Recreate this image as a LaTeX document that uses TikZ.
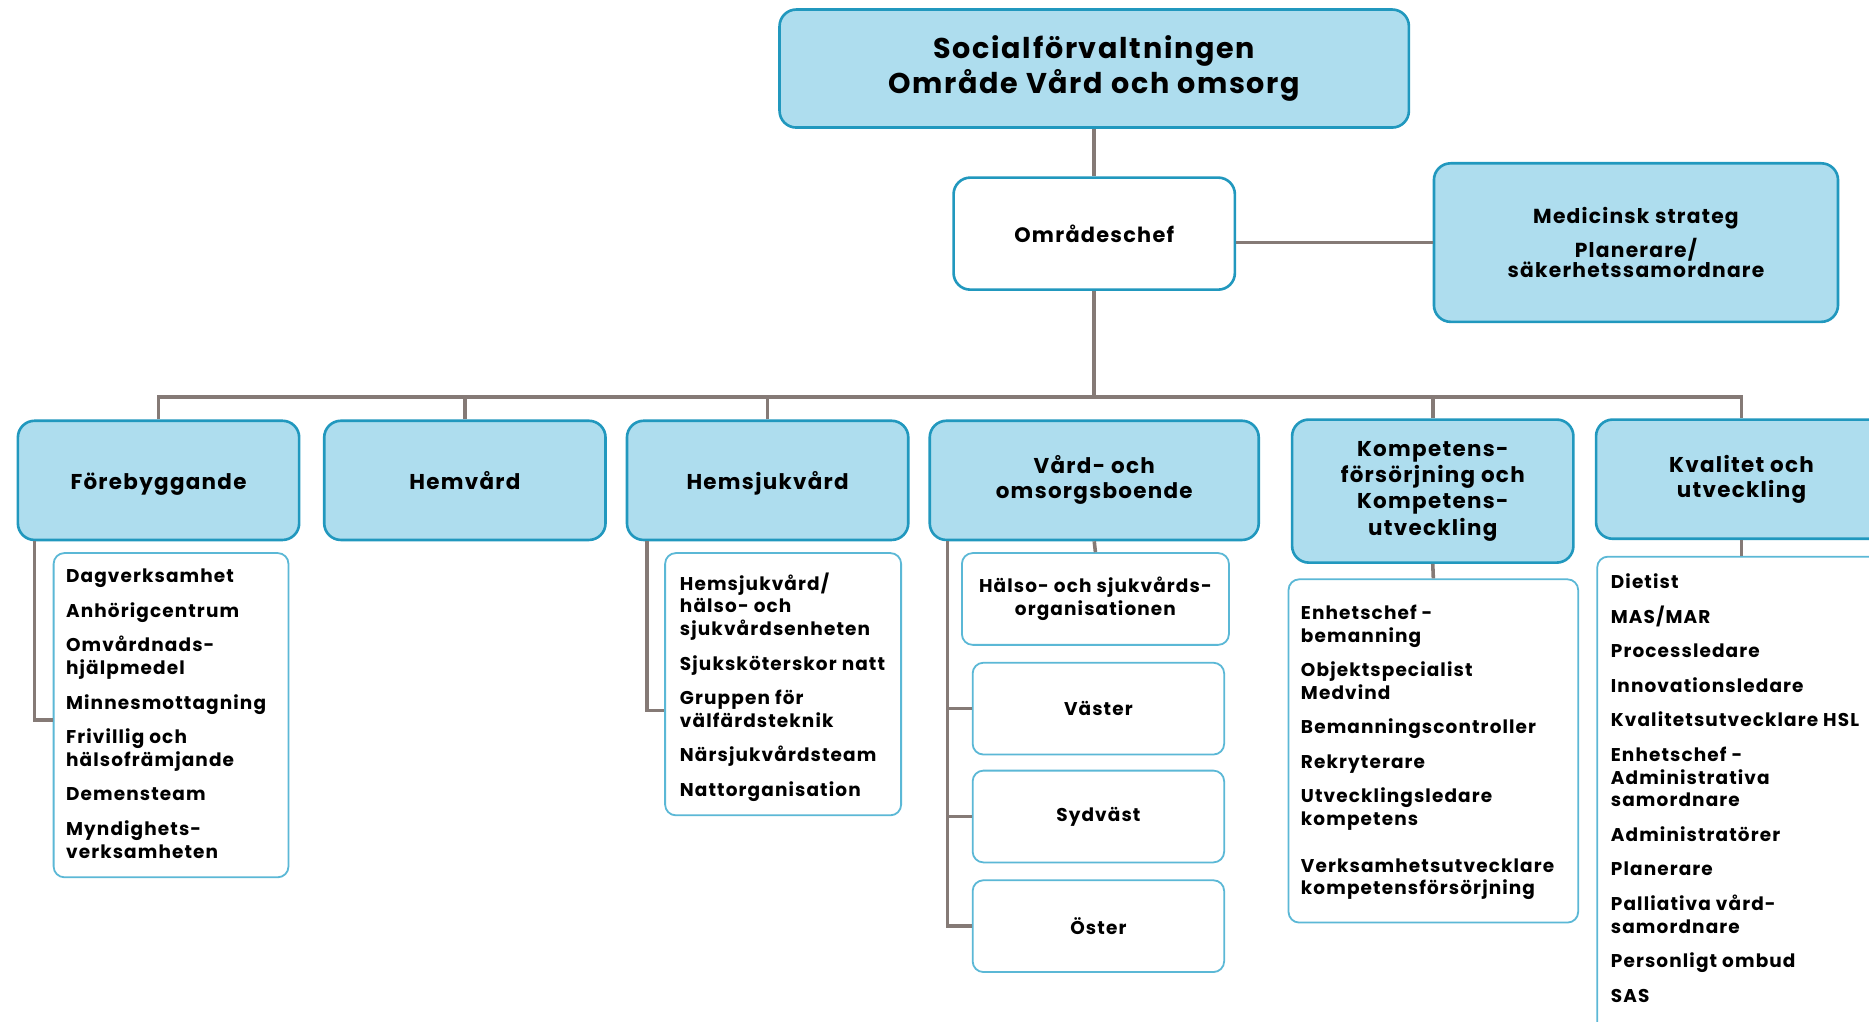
\documentclass[tikz,border=0pt]{standalone}
\usepackage{fontspec}
\setmainfont{Poppins}[LetterSpace=6]
\definecolor{fillc}{HTML}{AEDDEE}
\definecolor{bordc}{HTML}{2198BE}
\definecolor{listc}{HTML}{5BB8D6}
\definecolor{connc}{HTML}{857A76}
\begin{document}
\begin{tikzpicture}[x=1pt,y=-1pt,
  bluebox/.style={draw=bordc, fill=fillc, line width=2.2pt, rounded corners=14pt, align=center, inner sep=0pt, font=\bfseries\fontsize{18}{21}\selectfont},
  whitebox/.style={draw=bordc, fill=white, line width=2.2pt, rounded corners=14pt, align=center, inner sep=0pt, font=\bfseries\fontsize{18}{21}\selectfont},
  oneline/.style={text height=19pt, text depth=3.5pt},
  listbox/.style={draw=listc, fill=white, line width=1.5pt, rounded corners=9pt, align=center, inner sep=0pt, font=\bfseries\fontsize{15.5}{19}\selectfont},
  listtext/.style={align=left, inner sep=0pt, anchor=north west, font=\bfseries\fontsize{15.5}{19}\selectfont},
  conn/.style={draw=connc, line width=3pt}]
\useasboundingbox (0,0) rectangle (1568,857);
\clip (0,0) rectangle (1568,857);
\fill[white] (0,0) rectangle (1568,857);
% top level
\node[bluebox, minimum width=528pt, minimum height=99pt, font=\bfseries\fontsize{24}{29}\selectfont] (top) at (918,57.5) {Socialförvaltningen\\Område Vård och omsorg};
\node[whitebox, minimum width=236pt, minimum height=94pt, font=\bfseries\fontsize{17.5}{21}\selectfont] (chef) at (918,196) {Områdeschef};
\node[bluebox, minimum width=339pt, minimum height=133pt, font=\bfseries\fontsize{17}{17}\selectfont] (med) at (1372.5,203.5) {Medicinsk strateg\\[7pt]Planerare/\\säkerhetssamordnare};
% level 2
\node[bluebox, oneline, minimum width=236pt, minimum height=100pt] (fore) at (133,403) {Förebyggande};
\node[bluebox, oneline, minimum width=236pt, minimum height=100pt] (hemv) at (390,403) {Hemvård};
\node[bluebox, oneline, minimum width=236pt, minimum height=100pt] (hemsj) at (644,403) {Hemsjukvård};
\node[bluebox, minimum width=276pt, minimum height=100pt] (vob) at (918,403) {Vård- och\\omsorgsboende};
\node[bluebox, minimum width=236pt, minimum height=120pt, font=\bfseries\fontsize{18}{22}\selectfont] (komp) at (1202,412) {Kompetens-\\försörjning och\\Kompetens-\\utveckling};
\node[bluebox, minimum width=244pt, minimum height=100pt] (kval) at (1461,402) {Kvalitet och\\utveckling};
% list boxes
\node[listbox, minimum width=197pt, minimum height=272pt] (foreL) at (143.5,600) {};
\node[listbox, minimum width=198pt, minimum height=220pt] (hemsjL) at (657,574) {};
\node[listbox, minimum width=224pt, minimum height=77pt] (halso) at (919,502.5) {Hälso- och sjukvårds-\\organisationen};
\node[listbox, minimum width=211pt, minimum height=77pt] (vast) at (921.5,594.5) {Väster};
\node[listbox, minimum width=211pt, minimum height=77pt] (sydv) at (921.5,685) {Sydväst};
\node[listbox, minimum width=211pt, minimum height=77pt] (oster) at (921.5,777) {Öster};
\node[listbox, minimum width=243pt, minimum height=288pt] (kompL) at (1202.5,630) {};
\node[listbox, minimum width=260pt, minimum height=413pt] (kvalL) at (1470,673.5) {};
% list texts
\node[listtext] (foreT) at ([xshift=11pt,yshift=-14pt]foreL.north west) {Dagverksamhet\\[10pt]Anhörigcentrum\\[10pt]Omvårdnads-\\hjälpmedel\\[10pt]Minnesmottagning\\[10pt]Frivillig och\\hälsofrämjande\\[10pt]Demensteam\\[10pt]Myndighets-\\verksamheten};
\node[listtext] (hemsjT) at ([xshift=13pt,yshift=-17pt]hemsjL.north west) {Hemsjukvård/\\hälso- och\\sjukvårdsenheten\\[10pt]Sjuksköterskor natt\\[10pt]Gruppen för\\välfärdsteknik\\[10pt]Närsjukvårdsteam\\[10pt]Nattorganisation};
\node[listtext] (kompT) at ([xshift=11pt,yshift=-22pt]kompL.north west) {Enhetschef -\\bemanning\\[10pt]Objektspecialist\\Medvind\\[10pt]Bemanningscontroller\\[10pt]Rekryterare\\[10pt]Utvecklingsledare\\kompetens\\[20pt]Verksamhetsutvecklare\\kompetensförsörjning};
\node[listtext] (kvalT) at ([xshift=12pt,yshift=-15pt]kvalL.north west) {Dietist\\[10pt]MAS/MAR\\[10pt]Processledare\\[10pt]Innovationsledare\\[10pt]Kvalitetsutvecklare HSL\\[10pt]Enhetschef -\\Administrativa\\samordnare\\[10pt]Administratörer\\[10pt]Planerare\\[10pt]Palliativa vård-\\samordnare\\[10pt]Personligt ombud\\[10pt]SAS};
% connectors
\coordinate (bus) at (918,333);
\draw[conn] (top.south) -- (chef.north);
\draw[conn] (med.west) -- (med.west -| chef.east);
\draw[conn] (chef.south) -- (bus);
\draw[conn] (fore.north) |- (bus) -| (kval.north);
\draw[conn] (hemv.north) -- (hemv.north |- bus);
\draw[conn] (hemsj.north) -- (hemsj.north |- bus);
\draw[conn] (komp.north) -- (komp.north |- bus);
\draw[conn] ([xshift=15pt]fore.south west) |- ([yshift=-4pt]foreL.west);
\draw[conn] ([xshift=18pt]hemsj.south west) |- ([yshift=-22pt]hemsjL.west);
\draw[conn] (vob.south) -- (halso.north);
\coordinate (spine) at ([xshift=16pt]vob.south west);
\draw[conn] (spine) |- (oster.west);
\draw[conn] (vast.west) -- (vast.west -| spine);
\draw[conn] (sydv.west) -- (sydv.west -| spine);
\draw[conn] (komp.south) -- (kompL.north);
\draw[conn] (kval.south) -- (kval.south |- kvalL.north);
\end{tikzpicture}
\end{document}
